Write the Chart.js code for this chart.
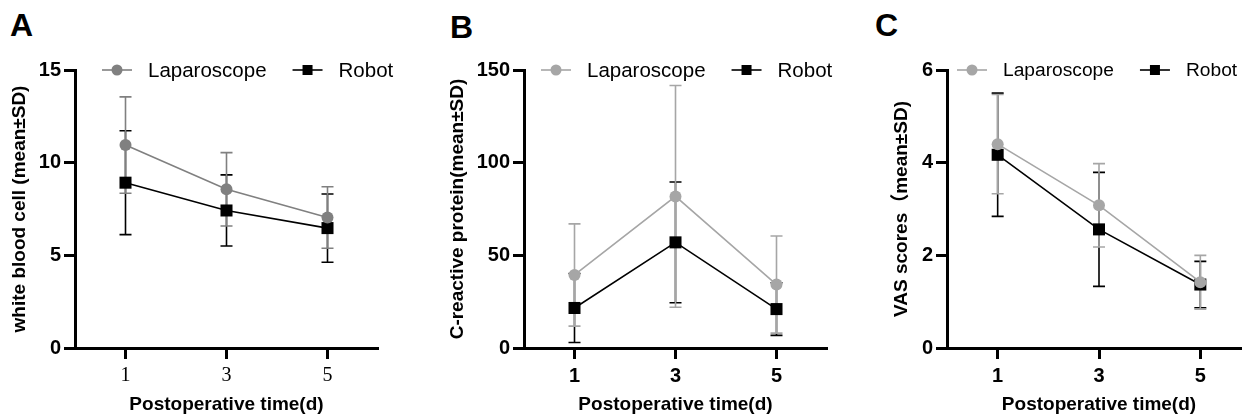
<!DOCTYPE html>
<html>
<head>
<meta charset="utf-8">
<script src="https://cdn.jsdelivr.net/npm/chart.js@4"></script>
<style>
  body { margin: 0; width: 1242px; height: 418px; overflow: hidden; position: relative; background: #fff; }
  canvas { position: absolute; top: 0; }
  .tag { position: absolute; font: bold 32px "Liberation Sans", Arial, sans-serif; line-height: 32px; color: #000; }
</style>
</head>
<body>
<div class="tag" style="left:10px;top:9px">A</div>
<div class="tag" style="left:450px;top:11px">B</div>
<div class="tag" style="left:875px;top:9px">C</div>
<canvas id="chartA" width="420" height="418" style="left:0px"></canvas>
<canvas id="chartB" width="400" height="418" style="left:440px"></canvas>
<canvas id="chartC" width="380" height="418" style="left:880px"></canvas>
<script>
// postoperative days
const days = [1, 3, 5];
const groups = ["Laparoscope", "Robot"];

// white blood cell
const wbcLap = [10.95, 8.56, 7.04];
const wbcLapSd = [2.6, 1.98, 1.66];
const wbcRobot = [8.92, 7.42, 6.47];
const wbcRobotSd = [2.8, 1.92, 1.84];

// C-reactive protein
const crpLap = [39.4, 81.8, 34.2];
const crpLapSd = [27.6, 59.8, 26.2];
const crpRobot = [21.6, 57.0, 21.0];
const crpRobotSd = [18.6, 32.6, 14.2];

// VAS scores
const vasLap = [4.4, 3.08, 1.42];
const vasLapSd = [1.07, 0.9, 0.58];
const vasRobot = [4.17, 2.56, 1.37];
const vasRobotSd = [1.33, 1.23, 0.5];

const SANS = '"Liberation Sans", Arial, sans-serif';

const errorBars = {
  id: "errorBars",
  beforeDatasetsDraw(chart) {
    const ctx = chart.ctx;
    const x = chart.scales.x, y = chart.scales.y;
    const sets = chart.data.datasets.slice().reverse();
    sets.forEach(ds => {
      ctx.save();
      ctx.strokeStyle = ds.borderColor;
      ctx.lineWidth = 1.6;
      ds.data.forEach((p, j) => {
        const px = x.getPixelForValue(p.x);
        const top = y.getPixelForValue(p.y + ds.sd[j]);
        const bot = y.getPixelForValue(p.y - ds.sd[j]);
        ctx.beginPath();
        ctx.moveTo(px, top); ctx.lineTo(px, bot);
        ctx.moveTo(px - 6, top); ctx.lineTo(px + 6, top);
        ctx.moveTo(px - 6, bot); ctx.lineTo(px + 6, bot);
        ctx.stroke();
      });
      ctx.restore();
    });
  }
};

const lineLegend = {
  id: "lineLegend",
  afterDraw(chart, args, opts) {
    const ctx = chart.ctx;
    const yc = chart.chartArea.top;
    let xs = chart.chartArea.left + opts.start;
    ctx.save();
    ctx.font = opts.size + "px " + SANS;
    ctx.textBaseline = "middle";
    chart.data.datasets.forEach(ds => {
      ctx.strokeStyle = ds.borderColor;
      ctx.fillStyle = ds.borderColor;
      ctx.lineWidth = 1.6;
      ctx.beginPath();
      ctx.moveTo(xs, yc); ctx.lineTo(xs + 30, yc);
      ctx.stroke();
      if (ds.pointStyle === "rect") {
        ctx.fillRect(xs + 15 - 5, yc - 5, 10, 10);
      } else {
        ctx.beginPath();
        ctx.arc(xs + 15, yc, 5.5, 0, Math.PI * 2);
        ctx.fill();
      }
      ctx.fillStyle = "#000";
      ctx.fillText(ds.label, xs + 46, yc + 1);
      xs += 46 + ctx.measureText(ds.label).width + 26;
    });
    ctx.restore();
  }
};

function pts(vals) {
  return days.map((d, i) => ({ x: d, y: vals[i] }));
}

function makePanel(id, p) {
  new Chart(document.getElementById(id), {
    type: "line",
    data: {
      datasets: [
        {
          label: groups[0], data: pts(p.lap), sd: p.lapSd,
          borderColor: p.lapColor, backgroundColor: p.lapColor, borderWidth: 1.6,
          pointStyle: "circle", pointRadius: 6, pointBackgroundColor: p.lapColor,
          pointBorderColor: p.lapColor, pointBorderWidth: 0
        },
        {
          label: groups[1], data: pts(p.robot), sd: p.robotSd,
          borderColor: "#000", backgroundColor: "#000", borderWidth: 1.6,
          pointStyle: "rect", pointRadius: 8.5, pointBackgroundColor: "#000",
          pointBorderColor: "#000", pointBorderWidth: 0
        }
      ]
    },
    options: {
      responsive: false,
      animation: false,
      events: [],
      layout: { padding: { left: 0, right: p.padRight, top: 70, bottom: 0 } },
      plugins: {
        legend: { display: false },
        tooltip: { enabled: false },
        lineLegend: { start: p.legendStart, size: p.legendSize }
      },
      scales: {
        x: {
          type: "linear", min: 0, max: 6,
          afterBuildTicks: s => { s.ticks = days.map(v => ({ value: v })); },
          afterFit: s => { s.height = 70; },
          grid: { display: true, drawOnChartArea: false, drawTicks: true, tickLength: 11, tickWidth: 3, tickColor: "#000" },
          border: { display: true, width: 3, color: "#000" },
          ticks: { color: "#000", padding: 5, font: p.xTickFont },
          title: {
            display: true, text: "Postoperative time(d)", color: "#000",
            font: { family: SANS, size: 19, weight: "bold" }, padding: { top: 0, bottom: 2 }
          }
        },
        y: {
          min: 0, max: p.yMax,
          afterFit: s => { s.width = p.yWidth; },
          grid: { display: true, drawOnChartArea: false, drawTicks: true, tickLength: 11, tickWidth: 3, tickColor: "#000" },
          border: { display: true, width: 3, color: "#000" },
          ticks: { stepSize: p.yStep, color: "#000", padding: 3, font: { family: SANS, size: 20, weight: "bold" } },
          title: {
            display: true, text: p.yTitle, color: "#000",
            font: { family: SANS + ', "Noto Sans CJK SC"', size: 19, weight: "bold" }, padding: { top: p.titlePad, bottom: 0 }
          }
        }
      }
    },
    plugins: [errorBars, lineLegend]
  });
}

makePanel("chartA", {
  lap: wbcLap, lapSd: wbcLapSd, robot: wbcRobot, robotSd: wbcRobotSd,
  lapColor: "#808080", yMax: 15, yStep: 5, yWidth: 75, padRight: 42, titlePad: 8,
  yTitle: "white blood cell (mean±SD)", legendStart: 27, legendSize: 20.5,
  xTickFont: { family: '"Liberation Serif", "Times New Roman", serif', size: 20, weight: "normal" }
});

makePanel("chartB", {
  lap: crpLap, lapSd: crpLapSd, robot: crpRobot, robotSd: crpRobotSd,
  lapColor: "#a6a6a6", yMax: 150, yStep: 50, yWidth: 84, padRight: 13, titlePad: 6,
  yTitle: "C-reactive protein(mean±SD)", legendStart: 17, legendSize: 20.5,
  xTickFont: { family: SANS, size: 20, weight: "bold" }
});

makePanel("chartC", {
  lap: vasLap, lapSd: vasLapSd, robot: vasRobot, robotSd: vasRobotSd,
  lapColor: "#a6a6a6", yMax: 6, yStep: 2, yWidth: 67, padRight: 9, titlePad: 10,
  yTitle: "VAS scores（mean±SD)", legendStart: 10, legendSize: 19.2,
  xTickFont: { family: SANS, size: 20, weight: "bold" }
});
</script>
</body>
</html>
